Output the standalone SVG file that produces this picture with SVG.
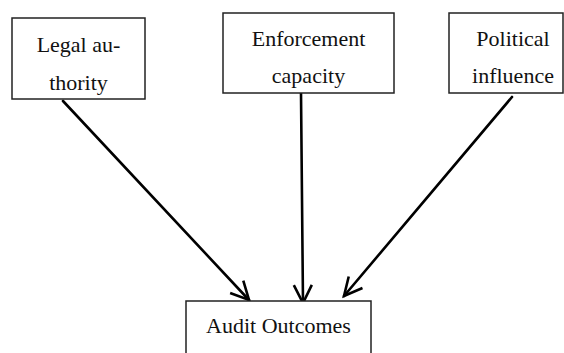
<svg xmlns="http://www.w3.org/2000/svg" width="564" height="353" viewBox="0 0 564 353">
<style>
.box{fill:#fff;stroke:#222;stroke-width:1.5}
.t{font-family:"Liberation Serif",serif;font-size:22px;fill:#111;text-anchor:middle}
.arr{stroke:#000;stroke-width:2.6;fill:none;stroke-linecap:round;stroke-linejoin:miter}
</style>
<defs>
<marker id="ah" markerWidth="24" markerHeight="24" refX="20" refY="12" orient="auto" markerUnits="userSpaceOnUse">
<path d="M2,3 L20,12 L2,21" fill="none" stroke="#000" stroke-width="2.6"/>
</marker>
</defs>
<rect width="564" height="353" fill="#fff"/>
<g id="connectors">
<line class="arr" x1="63" y1="101" x2="249" y2="300" marker-end="url(#ah)"/>
<line class="arr" x1="301" y1="93" x2="303" y2="303" marker-end="url(#ah)"/>
<line class="arr" x1="512" y1="97" x2="344" y2="296" marker-end="url(#ah)"/>
</g>
<g id="legal">
<rect class="box" x="12" y="18" width="133" height="81"/>
<text class="t" x="78.5" y="52">Legal au-</text>
<text class="t" x="78.5" y="90">thority</text>
</g>
<g id="enforcement">
<rect class="box" x="223" y="13" width="171" height="80"/>
<text class="t" x="308.5" y="46">Enforcement</text>
<text class="t" x="308.5" y="83">capacity</text>
</g>
<g id="political">
<rect class="box" x="449" y="13" width="114" height="80"/>
<text class="t" x="513" y="46">Political</text>
<text class="t" x="513" y="83">influence</text>
</g>
<g id="audit">
<rect class="box" x="186" y="301" width="185" height="60"/>
<text class="t" x="278.5" y="333">Audit Outcomes</text>
</g>
</svg>
